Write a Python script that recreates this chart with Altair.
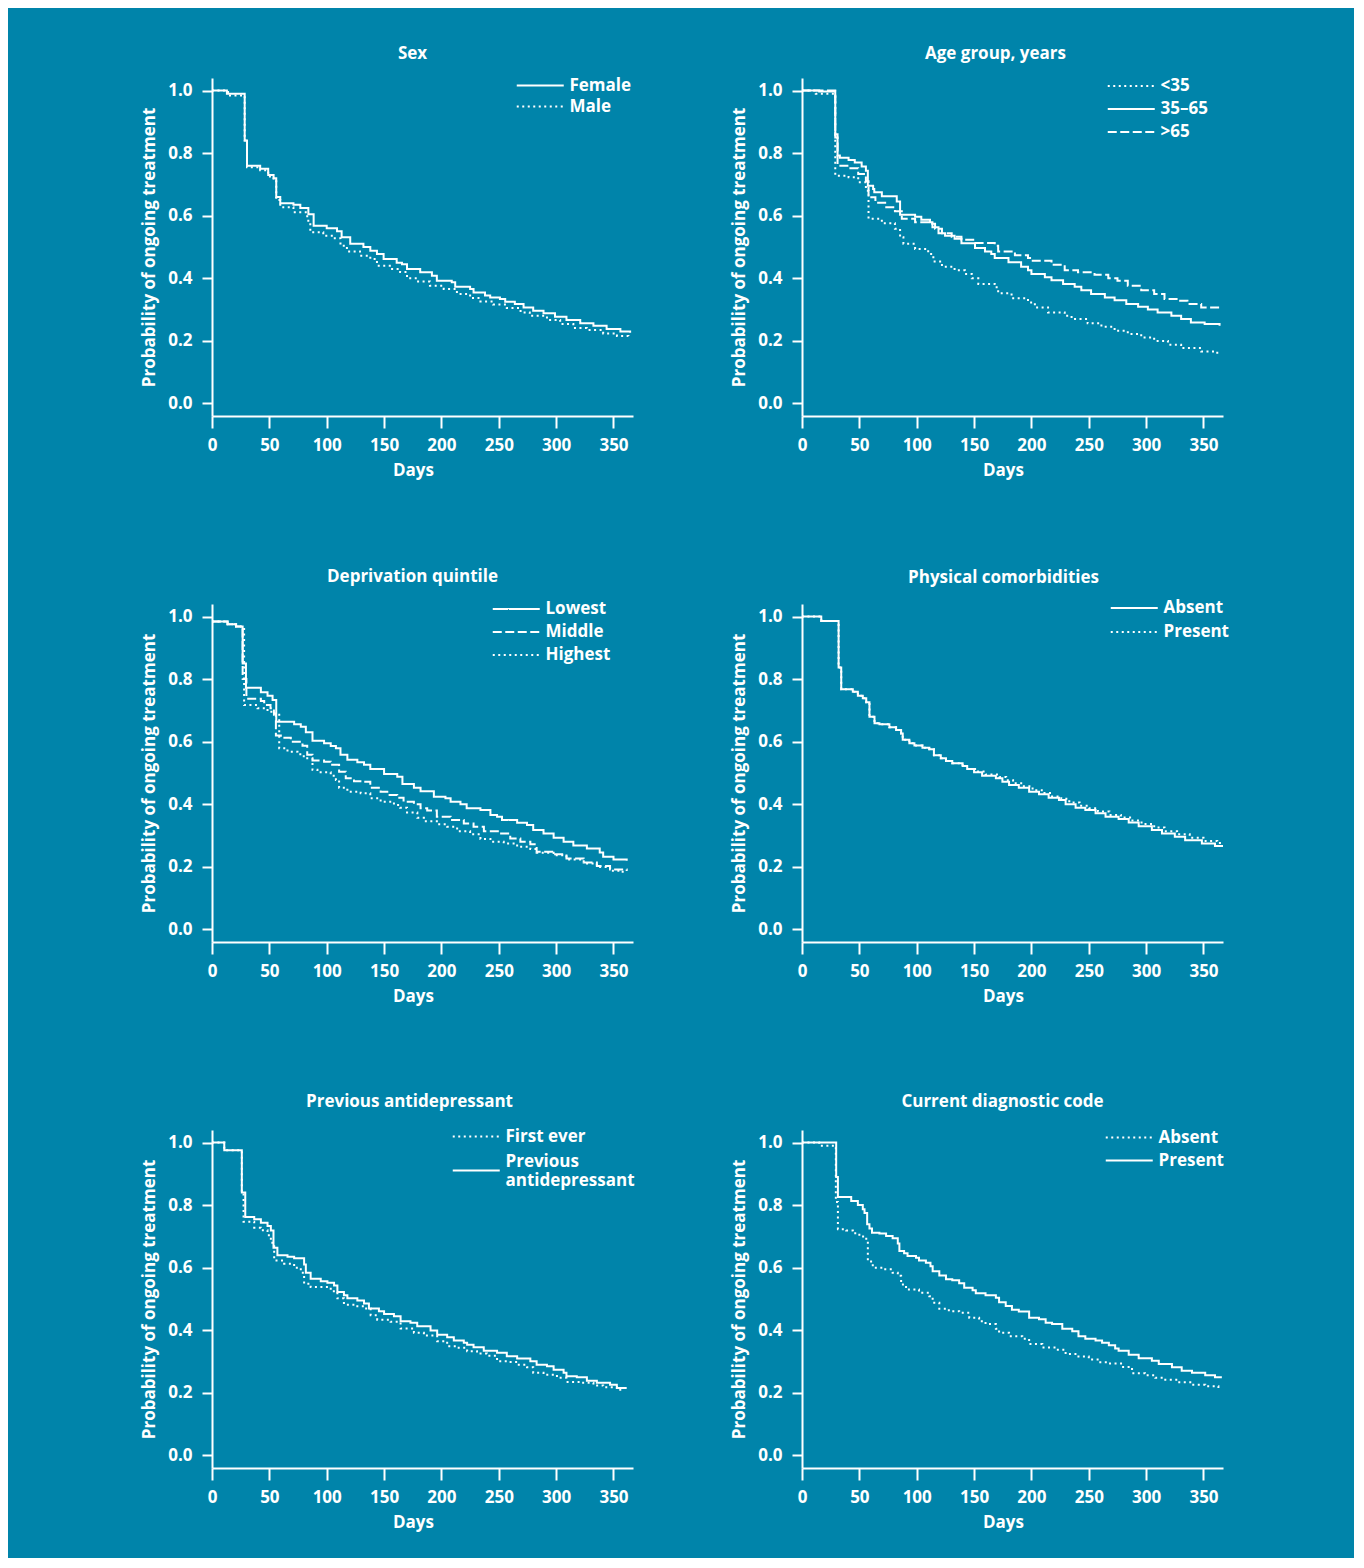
import altair as alt
import pandas as pd

BG = "#0084AA"
FONT = "Open Sans"

# ---------- Panel 1: Sex ----------
SEX_FEMALE_DAYS = [0, 13, 28.5, 30.5, 42, 49, 53.7, 56, 59.5, 71, 77, 84, 88.6, 100, 109, 113, 120.5, 132, 138,
                   143.8, 149.6, 161, 165.6, 170, 181.5, 191.7, 196, 209, 212, 225, 228, 238, 242.5, 251, 255.6,
                   264, 271.6, 280, 289, 299, 309, 321, 332.5, 344, 356, 364.5]
SEX_FEMALE_SURV = [1.0, 0.99, 0.84, 0.76, 0.75, 0.73, 0.72, 0.66, 0.64, 0.635, 0.625, 0.605, 0.568, 0.56, 0.55,
                   0.531, 0.51, 0.50, 0.488, 0.478, 0.462, 0.45, 0.445, 0.43, 0.419, 0.408, 0.392, 0.387, 0.373,
                   0.366, 0.355, 0.345, 0.339, 0.334, 0.325, 0.318, 0.307, 0.296, 0.288, 0.277, 0.267, 0.256,
                   0.248, 0.238, 0.23, 0.226]
SEX_MALE_DAYS = [0, 14, 28.5, 30.5, 42, 49, 53.7, 56, 59.5, 71, 83, 85.7, 97, 106, 112, 117.6, 129, 138, 143.8,
                 155, 164, 170, 178.6, 190, 202, 213.5, 225, 234, 245, 257, 269, 277, 292, 303.5, 315, 326.7,
                 341, 353, 363]
SEX_MALE_SURV = [1.0, 0.984, 0.84, 0.755, 0.745, 0.725, 0.715, 0.65, 0.627, 0.611, 0.584, 0.547, 0.536, 0.528,
                 0.504, 0.486, 0.472, 0.462, 0.44, 0.43, 0.42, 0.40, 0.39, 0.376, 0.366, 0.35, 0.337, 0.326,
                 0.316, 0.305, 0.291, 0.28, 0.267, 0.254, 0.241, 0.235, 0.224, 0.216, 0.209]

# ---------- Panel 2: Age group ----------
AGE_U35_DAYS = [0, 12, 29, 40.6, 49, 55.7, 58, 69.6, 81, 85.5, 88.4, 98.6, 110, 114.5, 122, 133, 142, 148,
                153.7, 168, 171, 182.7, 197, 203, 214.5, 229, 235, 249, 261, 272.5, 284, 295.7, 307, 319,
                330.5, 348, 362]
AGE_U35_SURV = [1.0, 0.99, 0.728, 0.723, 0.707, 0.68, 0.59, 0.576, 0.558, 0.531, 0.51, 0.494, 0.478, 0.454,
                0.437, 0.426, 0.414, 0.40, 0.382, 0.371, 0.352, 0.336, 0.323, 0.307, 0.291, 0.28, 0.27, 0.256,
                0.245, 0.232, 0.222, 0.211, 0.20, 0.188, 0.177, 0.166, 0.156]
AGE_MID_DAYS = [0, 15, 29, 31, 33, 40.6, 46, 52, 55.7, 57.4, 62, 63, 69.6, 82.6, 85.5, 98.6, 104, 111.6, 113.7,
                119, 124.7, 133, 139, 150.8, 159.5, 165, 168, 180, 191, 197, 200, 211.7, 217.5, 227.6, 237.7,
                243.5, 252, 264, 272.5, 282.7, 293, 301.5, 310, 322, 330.5, 339, 351, 364]
AGE_MID_SURV = [1.0, 0.997, 0.86, 0.792, 0.785, 0.778, 0.77, 0.757, 0.744, 0.696, 0.685, 0.675, 0.662, 0.645,
                0.603, 0.597, 0.587, 0.579, 0.563, 0.544, 0.536, 0.526, 0.512, 0.497, 0.486, 0.478, 0.465,
                0.451, 0.437, 0.426, 0.414, 0.403, 0.394, 0.382, 0.373, 0.362, 0.35, 0.339, 0.33, 0.318,
                0.309, 0.30, 0.291, 0.28, 0.27, 0.259, 0.254, 0.248]
AGE_O65_DAYS = [0, 29, 31, 40.6, 49, 55.7, 58, 64, 72.5, 81, 87, 98.6, 110, 116, 122, 130.5, 139, 150.8, 168,
                171, 185.6, 197, 200, 217.5, 229, 240.6, 255, 267, 275, 284, 295.7, 307, 316, 327.6, 336,
                348, 364]
AGE_O65_SURV = [1.0, 0.85, 0.76, 0.752, 0.733, 0.71, 0.659, 0.641, 0.627, 0.614, 0.59, 0.579, 0.574, 0.558,
                0.544, 0.533, 0.523, 0.513, 0.504, 0.486, 0.474, 0.465, 0.456, 0.443, 0.426, 0.419, 0.411,
                0.40, 0.392, 0.376, 0.362, 0.35, 0.334, 0.328, 0.318, 0.307, 0.305]

# ---------- Panel 3: Deprivation quintile ----------
DEP_LOW_DAYS = [0, 13.6, 21, 26.7, 29.6, 42.6, 48.4, 52.8, 56, 71.6, 77.4, 81.8, 87.6, 97.7, 103.5, 108, 112,
                118, 126.7, 132.5, 138, 150, 161.5, 166, 176, 181.8, 193.4, 203.5, 208, 216.6, 222, 234,
                242.7, 248.5, 252.8, 266, 274.6, 280, 289, 297.8, 306.5, 315, 326.8, 338, 341, 350, 361.5]
DEP_LOW_SURV = [0.984, 0.975, 0.968, 0.85, 0.772, 0.758, 0.747, 0.733, 0.664, 0.656, 0.648, 0.63, 0.603,
                0.595, 0.586, 0.579, 0.558, 0.542, 0.534, 0.526, 0.513, 0.497, 0.488, 0.465, 0.453, 0.442,
                0.424, 0.419, 0.408, 0.40, 0.387, 0.382, 0.366, 0.36, 0.35, 0.341, 0.334, 0.318, 0.307,
                0.293, 0.28, 0.268, 0.259, 0.246, 0.232, 0.224, 0.22]
DEP_MID_DAYS = [0, 13.6, 21, 26.7, 30, 42.6, 45.5, 51, 54, 55.7, 60, 68.7, 78.9, 83, 87.6, 97.7, 103.5, 110.8,
                116.6, 123.8, 132.5, 138, 147, 152.8, 161.5, 167, 176, 181.8, 187.6, 196, 208, 219.5, 228,
                237, 251, 260, 268.8, 277.5, 283, 297.8, 309, 324, 335.5, 347, 361.5]
DEP_MID_SURV = [0.984, 0.975, 0.968, 0.80, 0.737, 0.73, 0.717, 0.707, 0.69, 0.62, 0.613, 0.60, 0.587, 0.558,
                0.54, 0.536, 0.526, 0.504, 0.483, 0.474, 0.472, 0.453, 0.44, 0.43, 0.421, 0.408, 0.40, 0.387,
                0.38, 0.36, 0.35, 0.339, 0.328, 0.314, 0.307, 0.291, 0.28, 0.272, 0.248, 0.24, 0.227, 0.214,
                0.203, 0.192, 0.187]
DEP_HIGH_DAYS = [0, 13.6, 21, 28, 39.7, 48.4, 54, 58.6, 65.8, 74.5, 80, 87.6, 91.9, 103.5, 108, 110.8, 118,
                 129.6, 138, 147, 158.6, 164, 170, 179, 184.7, 196, 205, 213.7, 225, 234, 242.7, 254.3, 266,
                 277.5, 283, 297.8, 309, 324, 335.5, 347, 358]
DEP_HIGH_SURV = [0.984, 0.975, 0.968, 0.717, 0.707, 0.696, 0.686, 0.579, 0.568, 0.56, 0.547, 0.51, 0.502,
                 0.491, 0.478, 0.453, 0.44, 0.435, 0.419, 0.408, 0.398, 0.389, 0.374, 0.357, 0.346, 0.336,
                 0.328, 0.314, 0.304, 0.289, 0.28, 0.275, 0.264, 0.257, 0.245, 0.237, 0.224, 0.211, 0.20,
                 0.188, 0.18]

# ---------- Panel 4: Physical comorbidities ----------
PHY_ABS_DAYS = [0, 16.8, 31.9, 34.2, 44.3, 48.7, 53, 56, 58.8, 63.2, 67.5, 76.2, 82, 86.4, 87.8, 93.6, 98, 105,
                111, 115, 121, 125.5, 131, 140, 144, 150, 157, 169, 174.7, 180.5, 189, 198, 206.6, 215, 224,
                229.8, 238.5, 247, 255.9, 264.6, 276, 284.8, 293.5, 305, 313.8, 325, 334, 348.6, 360, 367]
PHY_ABS_SURV = [1.0, 0.986, 0.837, 0.768, 0.76, 0.747, 0.739, 0.726, 0.68, 0.659, 0.656, 0.646, 0.637, 0.626,
                0.606, 0.595, 0.588, 0.581, 0.576, 0.557, 0.547, 0.538, 0.531, 0.522, 0.513, 0.502, 0.491,
                0.483, 0.472, 0.462, 0.453, 0.44, 0.432, 0.421, 0.414, 0.40, 0.389, 0.382, 0.371, 0.36,
                0.353, 0.342, 0.33, 0.318, 0.307, 0.296, 0.285, 0.275, 0.267, 0.264]
PHY_PRES_DAYS = [0, 16.8, 31.9, 34.2, 44.3, 48.7, 53, 56, 58.8, 63.2, 67.5, 76.2, 82, 86.4, 87.8, 93.6, 98, 105,
                 111, 115, 121, 125.5, 131, 140, 146, 152, 160, 172, 178, 184, 192, 201, 209, 218, 226, 233,
                 242, 250, 258, 268, 278, 287, 296, 307, 316, 327, 338, 350, 362, 367]
PHY_PRES_SURV = [1.0, 0.986, 0.837, 0.768, 0.76, 0.747, 0.739, 0.726, 0.68, 0.659, 0.656, 0.646, 0.637, 0.626,
                 0.606, 0.595, 0.588, 0.581, 0.576, 0.557, 0.547, 0.538, 0.531, 0.522, 0.513, 0.505, 0.495,
                 0.487, 0.477, 0.467, 0.458, 0.445, 0.436, 0.425, 0.418, 0.406, 0.395, 0.387, 0.377, 0.366,
                 0.358, 0.348, 0.337, 0.326, 0.314, 0.304, 0.293, 0.283, 0.276, 0.274]

# ---------- Panel 5: Previous antidepressant ----------
PREV_FIRST_DAYS = [0, 10.7, 26, 27.5, 36.8, 42.6, 48.4, 51.3, 54.2, 62.9, 71.6, 77.4, 80.3, 86, 103.5, 109.3,
                   115, 126.7, 132.5, 138.3, 144, 155.7, 164.4, 176, 184.7, 196.3, 205, 213.7, 222.4, 231,
                   239.7, 248.5, 257, 266, 274.6, 280, 289, 300.7, 309, 321, 332.5, 341, 353, 358.6]
PREV_FIRST_SURV = [1.0, 0.975, 0.84, 0.747, 0.728, 0.72, 0.704, 0.68, 0.623, 0.613, 0.60, 0.584, 0.549, 0.538,
                   0.525, 0.502, 0.482, 0.477, 0.47, 0.448, 0.434, 0.427, 0.406, 0.392, 0.383, 0.365, 0.349,
                   0.344, 0.333, 0.326, 0.319, 0.301, 0.299, 0.29, 0.282, 0.264, 0.258, 0.248, 0.235, 0.232,
                   0.224, 0.218, 0.21, 0.21]
PREV_PREV_DAYS = [0, 10.7, 26, 29, 36.8, 42.6, 48.4, 51.3, 53.6, 57, 65.8, 71.6, 80.3, 81.8, 86, 94.8, 100.6,
                  106.4, 109.3, 115, 118, 126.7, 132.5, 136.8, 145.5, 150, 158.6, 164.4, 173, 178.9, 190.5,
                  196.3, 205, 210.8, 219.5, 222.4, 228, 236.9, 248.5, 257, 266, 277.5, 283, 292, 297.8, 306.5,
                  309, 318, 326.8, 335.5, 347, 352.9, 361.5]
PREV_PREV_SURV = [1.0, 0.975, 0.84, 0.762, 0.755, 0.744, 0.733, 0.719, 0.664, 0.64, 0.635, 0.63, 0.61, 0.584,
                  0.565, 0.557, 0.552, 0.543, 0.522, 0.512, 0.502, 0.495, 0.486, 0.47, 0.461, 0.452, 0.445,
                  0.429, 0.424, 0.413, 0.399, 0.386, 0.378, 0.367, 0.36, 0.354, 0.346, 0.335, 0.328, 0.317,
                  0.31, 0.301, 0.29, 0.285, 0.274, 0.264, 0.253, 0.25, 0.239, 0.232, 0.226, 0.216, 0.216]

# ---------- Panel 6: Current diagnostic code ----------
DIAG_ABS_DAYS = [0, 15, 29.5, 31.3, 38.5, 44.3, 50, 56, 57.4, 61.7, 70.4, 79, 83.5, 86.4, 90.7, 102, 111, 113.9,
                 119.7, 128, 137, 145.8, 154.4, 160, 169, 171.8, 180.5, 192, 198, 209.5, 221, 229.8, 241, 250,
                 258.8, 267.5, 279, 287.7, 299, 308, 316.7, 328, 340, 351.5, 363]
DIAG_ABS_SURV = [1.0, 0.99, 0.81, 0.723, 0.719, 0.71, 0.70, 0.68, 0.62, 0.60, 0.595, 0.584, 0.574, 0.546, 0.53,
                 0.52, 0.509, 0.488, 0.469, 0.461, 0.456, 0.44, 0.429, 0.42, 0.405, 0.392, 0.381, 0.373, 0.356,
                 0.345, 0.338, 0.324, 0.316, 0.307, 0.298, 0.294, 0.283, 0.263, 0.256, 0.248, 0.242, 0.234,
                 0.226, 0.221, 0.213]
DIAG_PRES_DAYS = [0, 29.8, 31.3, 42.9, 48.7, 53, 54.5, 56.8, 58.8, 61, 67.5, 73.3, 79, 83.5, 84.9, 89, 92, 99.4,
                  102, 108, 112, 113.9, 119.7, 125.5, 131, 137, 141.4, 148.7, 151.5, 160, 169, 171.8, 177.6,
                  183, 189, 198, 206.6, 212.4, 218, 226.9, 235.6, 241, 247, 255.9, 261.6, 267.5, 273, 276,
                  284.8, 293.5, 305, 311, 322.5, 331, 340, 351.5, 360, 366]
DIAG_PRES_SURV = [1.0, 0.89, 0.826, 0.813, 0.80, 0.787, 0.775, 0.739, 0.725, 0.712, 0.709, 0.701, 0.694, 0.677,
                  0.653, 0.646, 0.637, 0.632, 0.623, 0.616, 0.605, 0.589, 0.575, 0.563, 0.56, 0.55, 0.536,
                  0.528, 0.518, 0.512, 0.504, 0.49, 0.478, 0.466, 0.46, 0.44, 0.435, 0.424, 0.42, 0.405,
                  0.397, 0.381, 0.373, 0.367, 0.36, 0.352, 0.342, 0.335, 0.322, 0.311, 0.303, 0.292, 0.282,
                  0.271, 0.264, 0.256, 0.25, 0.25]

X_TICKS = [0, 50, 100, 150, 200, 250, 300, 350]
Y_TICKS = [0.0, 0.2, 0.4, 0.6, 0.8, 1.0]

SOLID = [1, 0]
DOT = [2, 3.5]
DASH = [9, 3.5]

# legend key: a horizontal line drawn by a custom symbol path twice as wide as the
# nominal symbol box, so the key is 47 px long while the entry stays 26 px tall
HALF = 23.5          # nominal symbol box (px)
SYM_PATH = "M-2,0H2"  # -> line of length 2*HALF = 47 px
ENTRY = 26           # ceil(HALF + strokeWidth)
TWO_LINE = "Previous antidepressant"

PANELS = [
    dict(title="Sex", dx=-10, toff=15, lx=303.5, cy=7.5, rp=0,
         names=["Female", "Male"], dashes=[SOLID, DOT],
         series=[(SEX_FEMALE_DAYS, SEX_FEMALE_SURV), (SEX_MALE_DAYS, SEX_MALE_SURV)]),
    dict(title="Age group, years", dx=-17, toff=15, lx=304.5, cy=8, rp=2,
         names=["<35", "35–65", ">65"], dashes=[DOT, SOLID, DASH],
         series=[(AGE_U35_DAYS, AGE_U35_SURV), (AGE_MID_DAYS, AGE_MID_SURV), (AGE_O65_DAYS, AGE_O65_SURV)]),
    dict(title="Deprivation quintile", dx=-10, toff=18, lx=279.5, cy=5, rp=2,
         names=["Lowest", "Middle", "Highest"], dashes=[SOLID, DASH, DOT],
         series=[(DEP_LOW_DAYS, DEP_LOW_SURV), (DEP_MID_DAYS, DEP_MID_SURV), (DEP_HIGH_DAYS, DEP_HIGH_SURV)]),
    dict(title="Physical comorbidities", dx=-9, toff=17, lx=307.5, cy=4, rp=3,
         names=["Absent", "Present"], dashes=[SOLID, DOT],
         series=[(PHY_ABS_DAYS, PHY_ABS_SURV), (PHY_PRES_DAYS, PHY_PRES_SURV)]),
    dict(title="Previous antidepressant", dx=-13, toff=19, lx=239.5, cy=6.5, rp=8,
         names=["First ever", TWO_LINE], dashes=[DOT, SOLID],
         series=[(PREV_FIRST_DAYS, PREV_FIRST_SURV), (PREV_PREV_DAYS, PREV_PREV_SURV)]),
    dict(title="Current diagnostic code", dx=-10, toff=19, lx=302.5, cy=7.5, rp=2,
         names=["Absent", "Present"], dashes=[DOT, SOLID],
         series=[(DIAG_ABS_DAYS, DIAG_ABS_SURV), (DIAG_PRES_DAYS, DIAG_PRES_SURV)]),
]

W, H = 421, 338


def make_panel(p, i):
    rows = []
    for name, (days, surv) in zip(p["names"], p["series"]):
        for d, s in zip(days, surv):
            rows.append({"day": d, "surv": s, "group": name})
    df = pd.DataFrame(rows)
    field = f"group{i}"
    df = df.rename(columns={"group": field})
    legend_y = p["cy"] - ENTRY / 2
    protrude = max(0.0, -legend_y)
    legend_kw = dict(
        title=None, orient="none", legendX=p["lx"] + HALF / 2, legendY=legend_y,
        symbolType=SYM_PATH, symbolSize=HALF * HALF, symbolStrokeWidth=2,
        symbolStrokeColor="white", labelColor="white", labelFont=FONT,
        labelFontSize=17, labelFontWeight="bold", labelOffset=HALF * 1.5 + 7 - ENTRY,
        rowPadding=p["rp"], padding=0, labelLimit=300,
    )
    if TWO_LINE in p["names"]:
        legend_kw["labelExpr"] = f"datum.label == '{TWO_LINE}' ? ['Previous', 'antidepressant'] : datum.label"
        legend_kw["labelBaseline"] = alt.ExprRef(f"datum.value == '{TWO_LINE}' ? 'bottom' : 'middle'")
    return alt.Chart(df).mark_line(
        interpolate="step-after", stroke="white", strokeWidth=2, clip=True
    ).encode(
        x=alt.X("day:Q",
                scale=alt.Scale(domain=[0, 367], nice=False, zero=False),
                axis=alt.Axis(values=X_TICKS, title="Days", titleX=201, format="d", labelFlush=False)),
        y=alt.Y("surv:Q",
                scale=alt.Scale(domain=[-0.04, 1.04], nice=False, zero=False),
                axis=alt.Axis(values=Y_TICKS, format=".1f", title="Probability of ongoing treatment",
                              labelFlush=False)),
        strokeDash=alt.StrokeDash(
            f"{field}:N",
            scale=alt.Scale(domain=p["names"], range=p["dashes"]),
            legend=alt.Legend(**legend_kw),
        ),
        order=alt.Order("day:Q"),
    ).properties(
        width=W, height=H,
        title=alt.TitleParams(p["title"], font=FONT, fontSize=17, fontWeight="bold", color="white",
                              frame="group", anchor="middle", dx=p["dx"], offset=p["toff"] - protrude),
    )


panels = [make_panel(p, i) for i, p in enumerate(PANELS)]

chart = alt.concat(*panels, columns=2, spacing={"row": 188, "column": 169}, bounds="flush").resolve_scale(
    strokeDash="independent"
).resolve_legend(strokeDash="independent").properties(
    background=BG,
    padding={"left": 132, "top": 37, "right": 124, "bottom": 28},
).configure_view(stroke=None).configure_axis(
    domainColor="white", domainWidth=2, tickColor="white", tickWidth=2,
    labelColor="white", labelFont=FONT, labelFontSize=17, labelFontWeight="bold",
    titleColor="white", titleFont=FONT, titleFontSize=17, titleFontWeight="bold", grid=False,
).configure_axisX(
    tickSize=12, labelPadding=9, titlePadding=9,
).configure_axisY(
    tickSize=10, labelPadding=10, titlePadding=9,
)

chart.save("out.html", embed_options={"renderer": "svg", "actions": False})
